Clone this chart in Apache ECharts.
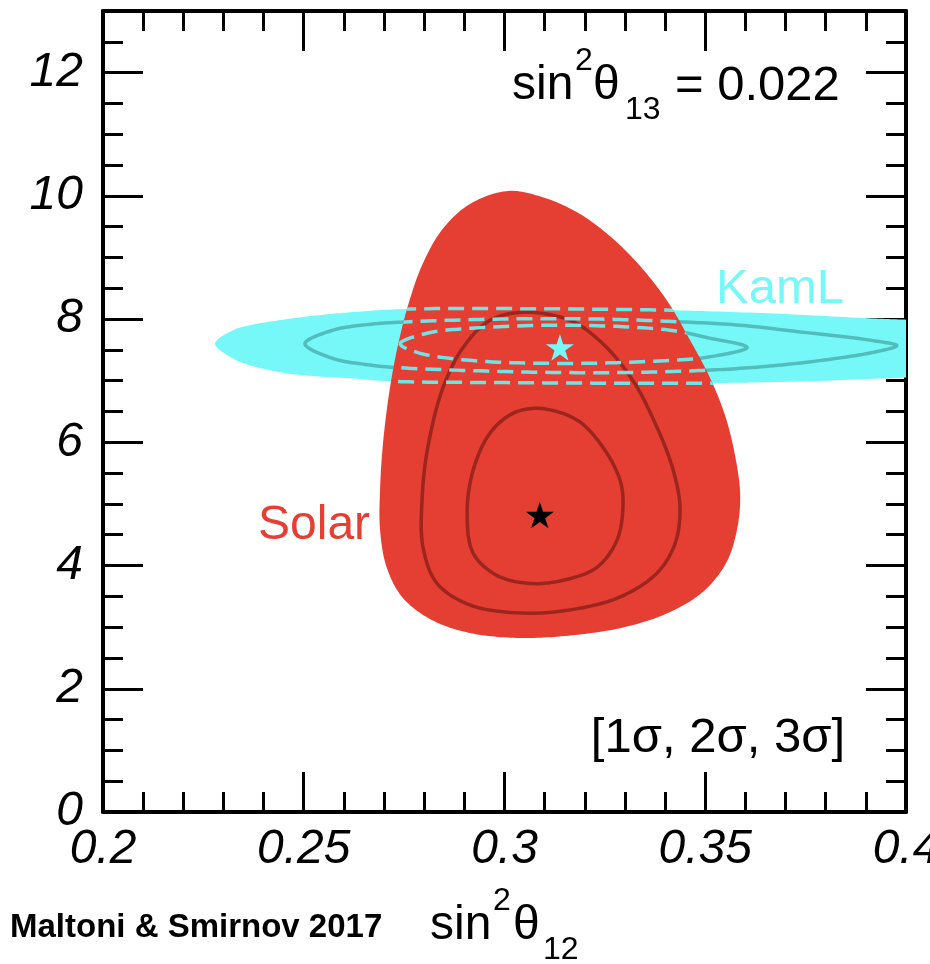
<!DOCTYPE html>
<html><head><meta charset="utf-8">
<script src="https://cdn.jsdelivr.net/npm/echarts@6/dist/echarts.min.js"></script>
<style>html,body{margin:0;padding:0;background:#fff}#c{width:930px;height:964px}</style>
</head><body><div id="c"></div>
<script>
// ---- tick labels ----
const xTickLabels = ['0.2', '0.25', '0.3', '0.35', '0.4'];
const yTickLabels = ['0', '2', '4', '6', '8', '10', '12'];

// ---- Solar contours [sin^2 theta12, dm2 (x1e-5 eV^2)] ----
const solar3Sigma = [[0.3009,10.08],[0.3101,9.965],[0.3188,9.705],[0.3268,9.316],[0.3342,8.829],[0.3407,8.277],[0.3462,7.660],[0.3512,7.044],[0.3549,6.443],[0.3574,5.794],[0.3587,5.145],[0.3579,4.577],[0.3552,4.041],[0.3494,3.571],[0.3407,3.230],[0.3300,3.002],[0.3176,2.873],[0.3039,2.824],[0.2914,2.905],[0.2819,3.116],[0.2747,3.473],[0.2707,3.960],[0.2690,4.577],[0.2690,5.226],[0.2697,5.956],[0.2712,6.768],[0.2732,7.498],[0.2760,8.228],[0.2795,8.878],[0.2844,9.446],[0.2914,9.868]];
const solar2Sigma = [[0.3046,8.11],[0.3163,7.98],[0.3245,7.60],[0.3320,7.00],[0.3380,6.24],[0.3420,5.55],[0.3437,4.95],[0.3425,4.36],[0.3380,3.88],[0.3288,3.49],[0.3163,3.28],[0.3039,3.23],[0.2914,3.36],[0.2832,3.71],[0.2797,4.30],[0.2795,5.11],[0.2809,5.92],[0.2847,6.89],[0.2897,7.54],[0.2964,7.98]];
const solar1Sigma = [[0.3088,6.55],[0.3181,6.36],[0.3245,5.92],[0.3288,5.38],[0.3295,4.95],[0.3280,4.41],[0.3230,3.97],[0.3146,3.76],[0.3063,3.71],[0.2981,3.84],[0.2922,4.20],[0.2907,4.85],[0.2922,5.55],[0.2964,6.15],[0.3021,6.47]];
const solarBest = [[0.3088, 4.82]];

// ---- KamLAND contours (3 sigma leaves the frame at 0.4) ----
const kamL3Sigma = [[0.2279,7.60],[0.2324,7.82],[0.2366,7.90],[0.2448,7.99],[0.2533,8.06],[0.2615,8.11],[0.2740,8.16],[0.2989,8.17],[0.3238,8.16],[0.3437,8.14],[0.3669,8.09],[0.3918,8.01],[0.4,7.99],[0.4,7.05],[0.3753,6.99],[0.3504,6.96],[0.3238,6.96],[0.2989,6.97],[0.2715,6.99],[0.2615,7.04],[0.2533,7.07],[0.2448,7.13],[0.2366,7.25],[0.2324,7.36]];
const kamL2Sigma = [[0.2503,7.60],[0.2573,7.82],[0.2658,7.91],[0.2740,7.95],[0.2989,8.00],[0.3238,8.00],[0.3420,7.96],[0.3587,7.90],[0.3753,7.78],[0.3918,7.65],[0.3977,7.57],[0.3918,7.46],[0.3753,7.30],[0.3587,7.20],[0.3420,7.15],[0.3238,7.13],[0.2989,7.15],[0.2715,7.22],[0.2658,7.26],[0.2573,7.36]];
const kamL1Sigma = [[0.2740,7.60],[0.2807,7.77],[0.2914,7.85],[0.3163,7.90],[0.3412,7.82],[0.3504,7.70],[0.3604,7.54],[0.3504,7.38],[0.3412,7.33],[0.3163,7.28],[0.2914,7.33],[0.2782,7.46]];
const kamLBest = [[0.3138, 7.54]];

const X_MIN = 0.2, X_MAX = 0.4;
const FONT = 'Liberation Sans';
const RED = '#E53F33', RED_LINE = '#9C261E';
const CYAN = '#77F8F8', CYAN_LINE = '#52BDBD', CYAN_DASH = '#6EE4E6';
const STAR = 'path://M50,0 L61.2,34.5 L97.6,34.5 L68.2,55.9 L79.4,90.5 L50,69.1 L20.6,90.5 L31.8,55.9 L2.4,34.5 L38.8,34.5 Z';

// closed centripetal Catmull-Rom curve through pixel points; corner points break the smoothing
function splineClosed(px, corner) {
  const n = px.length, out = [], STEPS = 16;
  const d = (a, b) => Math.max(1e-6, Math.pow(Math.hypot(b[0] - a[0], b[1] - a[1]), 0.5));
  const lerp = (a, b, ta, tb, t) => {
    const w = (t - ta) / (tb - ta);
    return [a[0] + (b[0] - a[0]) * w, a[1] + (b[1] - a[1]) * w];
  };
  for (let i = 0; i < n; i++) {
    const i2 = (i + 1) % n;
    const p1 = px[i], p2 = px[i2];
    const p0 = corner[i] ? [2 * p1[0] - p2[0], 2 * p1[1] - p2[1]] : px[(i - 1 + n) % n];
    const p3 = corner[i2] ? [2 * p2[0] - p1[0], 2 * p2[1] - p1[1]] : px[(i + 2) % n];
    const t0 = 0, t1 = t0 + d(p0, p1), t2 = t1 + d(p1, p2), t3 = t2 + d(p2, p3);
    for (let k = 0; k < STEPS; k++) {
      const t = t1 + (t2 - t1) * k / STEPS;
      const A1 = lerp(p0, p1, t0, t1, t), A2 = lerp(p1, p2, t1, t2, t), A3 = lerp(p2, p3, t2, t3, t);
      const B1 = lerp(A1, A2, t0, t2, t), B2 = lerp(A2, A3, t1, t3, t);
      out.push(lerp(B1, B2, t1, t2, t));
    }
  }
  return out;
}
function curvePoints(pts, api) {
  return splineClosed(pts.map(p => api.coord(p)), pts.map(p => p[0] >= X_MAX - 1e-9));
}

function polySeries(name, pts, style, z) {
  return {
    type: 'custom', name, coordinateSystem: 'cartesian2d', clip: true, silent: true, z,
    data: pts, encode: { x: 0, y: 1 },
    renderItem: function (params, api) {
      if (params.dataIndex !== 0) return null;
      return { type: 'polygon', shape: { points: curvePoints(pts, api) }, style: style };
    }
  };
}

function dashedInsideSolar(name, contours, z) {
  return {
    type: 'custom', name, coordinateSystem: 'cartesian2d', clip: true, silent: true, z,
    data: contours[0], encode: { x: 0, y: 1 },
    renderItem: function (params, api) {
      if (params.dataIndex !== 0) return null;
      return {
        type: 'group',
        clipPath: { type: 'polygon', shape: { points: curvePoints(solar3Sigma, api) } },
        children: contours.map(c => ({
          type: 'polygon', shape: { points: curvePoints(c, api) },
          style: { fill: 'none', stroke: CYAN_DASH, lineWidth: 3.5, lineDash: [16, 8] }
        }))
      };
    }
  };
}

const tickStyle = { color: '#000', width: 3 };
function xAx(pos, showLabel) {
  return {
    type: 'value', position: pos, min: X_MIN, max: X_MAX, interval: 0.05,
    axisLine: { show: true, onZero: false, lineStyle: { color: '#000', width: 4 } },
    axisTick: { show: true, inside: true, length: 40, lineStyle: tickStyle },
    minorTick: { show: true, splitNumber: 5, length: 20, lineStyle: tickStyle },
    splitLine: { show: false }, minorSplitLine: { show: false },
    axisLabel: {
      show: showLabel, margin: 14, fontSize: 48, fontStyle: 'italic', fontFamily: FONT, color: '#000',
      formatter: v => { const i = Math.round((v - X_MIN) / 0.05); return xTickLabels[i] || ''; }
    }
  };
}
function yAx(pos, showLabel) {
  return {
    type: 'value', position: pos, min: 0, max: 13, interval: 2,
    axisLine: { show: true, onZero: false, lineStyle: { color: '#000', width: 4 } },
    axisTick: { show: true, inside: true, length: 40, lineStyle: tickStyle },
    minorTick: { show: true, splitNumber: 4, length: 20, lineStyle: tickStyle },
    splitLine: { show: false }, minorSplitLine: { show: false },
    axisLabel: {
      show: showLabel, margin: 20, showMaxLabel: false, fontSize: 48, fontStyle: 'italic', fontFamily: FONT, color: '#000',
      formatter: v => { const i = Math.round(v / 2); return (Math.abs(v - i * 2) < 1e-6 && yTickLabels[i]) ? yTickLabels[i] : ''; }
    }
  };
}

function txt(s, x, y, size, extra) {
  return { type: 'text', x: x, y: y, z: 100, silent: true,
    style: Object.assign({ text: s, fontFamily: FONT, fontSize: size, fill: '#000', align: 'left', verticalAlign: 'middle' }, extra || {}) };
}

const chart = echarts.init(document.getElementById('c'), null, { renderer: 'canvas' });
chart.setOption({
  animation: false,
  backgroundColor: '#fff',
  grid: { left: 103, right: 24, top: 11, bottom: 152, containLabel: false, outerBoundsMode: 'none' },
  xAxis: [xAx('bottom', true), xAx('top', false)],
  yAxis: [yAx('left', true), yAx('right', false)],
  series: [
    polySeries('KamL 3σ', kamL3Sigma, { fill: CYAN, stroke: null }, 1),
    polySeries('KamL 2σ', kamL2Sigma, { fill: 'none', stroke: CYAN_LINE, lineWidth: 3.5 }, 2),
    polySeries('KamL 1σ', kamL1Sigma, { fill: 'none', stroke: CYAN_LINE, lineWidth: 3.5 }, 2),
    polySeries('Solar 3σ', solar3Sigma, { fill: RED, stroke: null }, 3),
    polySeries('Solar 2σ', solar2Sigma, { fill: 'none', stroke: RED_LINE, lineWidth: 3.5 }, 4),
    polySeries('Solar 1σ', solar1Sigma, { fill: 'none', stroke: RED_LINE, lineWidth: 3.5 }, 4),
    dashedInsideSolar('KamL in Solar', [kamL3Sigma, kamL2Sigma, kamL1Sigma], 5),
    { type: 'scatter', name: 'Solar best fit', data: solarBest, symbol: STAR, symbolSize: 28, symbolKeepAspect: true,
      itemStyle: { color: '#000', opacity: 1 }, z: 10, silent: true },
    { type: 'scatter', name: 'KamL best fit', data: kamLBest, symbol: STAR, symbolSize: 28, symbolKeepAspect: true,
      itemStyle: { color: CYAN, opacity: 1 }, z: 10, silent: true }
  ],
  graphic: [
    // sin^2 theta13 = 0.022
    txt('sin', 512, 86, 48),
    txt('2', 575, 61, 32),
    txt('θ', 593, 86, 48),
    txt('13', 625, 110, 32),
    txt('= 0.022', 675, 86, 49),
    // sigma levels
    txt('[1σ, 2σ, 3σ]', 845, 738, 49, { align: 'right' }),
    // region labels
    txt('Solar', 258, 526, 48, { fill: RED }),
    txt('KamL', 716, 289, 49, { fill: CYAN }),
    // x axis title sin^2 theta12
    txt('sin', 430, 926, 48),
    txt('2', 493, 901, 32),
    txt('θ', 513, 926, 48),
    txt('12', 543, 950, 32),
    // credit
    txt('Maltoni & Smirnov 2017', 10, 928, 33, { fontWeight: 'bold' })
  ]
});
</script>
</body></html>
